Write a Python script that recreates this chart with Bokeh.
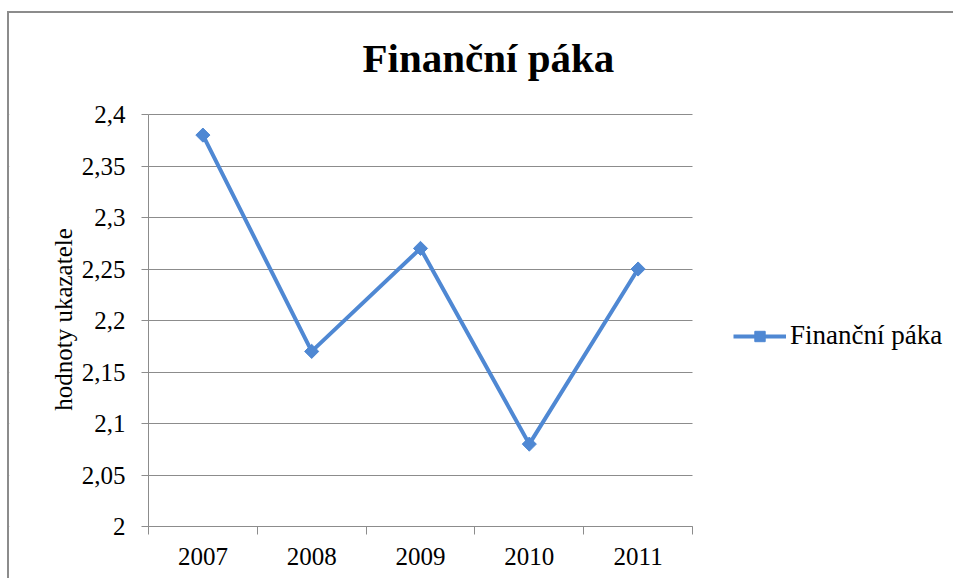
from bokeh.plotting import figure
from bokeh.models import (Range1d, FixedTicker, CustomJSTickFormatter, Legend,
                          LegendItem, BoxAnnotation, Label)
from bokeh.embed import file_html
from bokeh.resources import INLINE
import math

years = ["2007", "2008", "2009", "2010", "2011"]
values = [2.38, 2.17, 2.27, 2.08, 2.25]
y_ticks = [2.0, 2.05, 2.1, 2.15, 2.2, 2.25, 2.3, 2.35, 2.4]
y_min, y_max = 2.0, 2.4
title_text = "Finanční páka"
series_name = "Finanční páka"
y_label = "hodnoty ukazatele"

FONT = "Liberation Serif, Times New Roman, serif"
GRAY = "#8c8c8c"
BLUE = "#4F88D3"

# layout (pixels): the frame fills the figure, axes are fixed inside it
W, H = 946, 567
PL, PT, PB = 139, 101, 513          # plotting-area left, top, bottom (px)
DATA_W, DATA_H = 544, 412           # plotting-area size (px)

n = len(years)
xs = [i + 0.5 for i in range(n)]
ppx = DATA_W / n                    # px per x unit
ppy = DATA_H / (y_max - y_min)      # px per y unit
x_start, x_end = -PL / ppx, (W - PL) / ppx
y_start, y_end = y_min - (H - PB) / ppy, y_min + PB / ppy

p = figure(width=W, height=H, output_backend="svg", toolbar_location=None,
           x_range=Range1d(x_start, x_end), y_range=Range1d(y_start, y_end),
           min_border_left=0, min_border_right=0, min_border_top=0,
           min_border_bottom=0)
p.styles = {"margin-left": "7px", "margin-top": "11px",
            "border-left": "2px solid #8c8c8c", "border-top": "2px solid #8c8c8c"}

p.outline_line_color = None
p.background_fill_color = "white"
p.border_fill_color = "white"

p.xgrid.visible = False
p.ygrid.grid_line_color = GRAY
p.ygrid.grid_line_width = 1
p.ygrid.ticker = FixedTicker(ticks=y_ticks)

# y axis
ya = p.yaxis[0]
ya.fixed_location = 0
ya.bounds = (y_min, y_max)
ya.ticker = FixedTicker(ticks=y_ticks)
ya.formatter = CustomJSTickFormatter(code="""
let s = tick.toFixed(2).replace(/0+$/, '').replace(/\\.$/, '');
return s.replace('.', ',');
""")
ya.axis_line_color = GRAY
ya.major_tick_line_color = GRAY
ya.major_tick_out = 7
ya.major_tick_in = 0
ya.minor_tick_line_color = None
ya.major_label_text_font = FONT
ya.major_label_text_font_size = "25px"
ya.major_label_text_color = "black"
ya.major_label_standoff = 16

# x axis
xa = p.xaxis[0]
xa.fixed_location = y_min
xa.bounds = (0, n)
xa.ticker = FixedTicker(ticks=xs, minor_ticks=list(range(n + 1)))
xa.formatter = CustomJSTickFormatter(args=dict(years=years),
                                     code="return years[Math.floor(tick)];")
xa.axis_line_color = GRAY
xa.major_tick_line_color = None
xa.major_tick_out = 0
xa.major_tick_in = 0
xa.minor_tick_line_color = GRAY
xa.minor_tick_out = 8
xa.minor_tick_in = 0
xa.major_label_text_font = FONT
xa.major_label_text_font_size = "25px"
xa.major_label_text_color = "black"
xa.major_label_standoff = 13

# blank the grid outside the plotting region
p.add_layout(BoxAnnotation(right=0, fill_color="white", fill_alpha=1.0,
                           line_color=None, level="underlay"))
p.add_layout(BoxAnnotation(left=n, fill_color="white", fill_alpha=1.0,
                           line_color=None, level="underlay"))

ln = p.line(xs, values, line_color=BLUE, line_width=4)
mk = p.scatter(xs, values, marker="square", angle=math.pi / 4, size=10,
               fill_color=BLUE, line_color=BLUE)

legend = Legend(items=[LegendItem(label=series_name, renderers=[ln, mk])],
                location=(724, 229), glyph_width=53, glyph_height=26,
                label_height=26, label_standoff=4, padding=0, margin=0,
                spacing=0, border_line_color=None, background_fill_alpha=0,
                label_text_font=FONT, label_text_font_size="27px",
                label_text_color="black")
p.add_layout(legend, "center")

title = Label(x=353, y=523, x_units="screen", y_units="screen", text=title_text,
              text_font=FONT, text_font_size="41px", text_font_style="bold",
              text_color="black", text_baseline="alphabetic", text_align="left")
p.add_layout(title)

ylab = Label(x=54, y=261, x_units="screen", y_units="screen", text=y_label,
             angle=math.pi / 2, text_font=FONT, text_font_size="25px",
             text_color="black", text_baseline="middle", text_align="center")
p.add_layout(ylab)

open("out.html", "w").write(file_html(p, INLINE))
